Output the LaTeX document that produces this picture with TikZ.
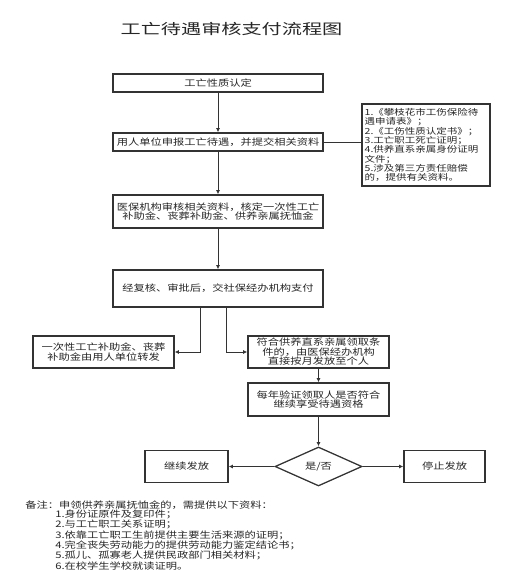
\documentclass[tikz,border=0pt]{standalone}
\usepackage{fontspec}
\setmainfont{Noto Sans CJK SC}[FakeStretch=1.25]
\newfontfamily\titlefont{Noto Sans CJK SC}[FakeStretch=1.4]
\usetikzlibrary{shapes.geometric,arrows.meta}
\definecolor{ink}{HTML}{262626}
\definecolor{edge}{HTML}{333333}
\tikzset{
  box/.style={draw=edge, line width=0.95pt, rectangle, inner xsep=2pt, inner ysep=1pt,
    align=center, text=ink, font=\fontsize{6.75pt}{7.1pt}\selectfont},
  widebox/.style={box, minimum width=157.5pt},
  sidebox/.style={box, minimum width=105.75pt},
  endbox/.style={box, minimum height=24pt},
  decision/.style={draw=edge, line width=0.95pt, diamond, inner sep=0pt, minimum width=65.25pt,
    minimum height=29.25pt, text=ink, font=\fontsize{6.75pt}{7.1pt}\selectfont},
  arr/.style={draw=edge, line width=0.7pt, -{Latex[length=3.2pt,width=3pt]}},
  conn/.style={draw=edge, line width=0.7pt},
  notetext/.style={inner sep=0pt, text=ink, align=left, font=\fontsize{6.75pt}{6.5pt}\selectfont}
}
\begin{document}
\begin{tikzpicture}[x=0.75pt, y=-0.75pt]
\useasboundingbox[fill=white] (0,0) rectangle (507,570);
\node[text=ink, font=\titlefont\fontsize{10.8pt}{12pt}\selectfont] (title) at (231.5,29) {工亡待遇审核支付流程图};
\node[widebox, minimum height=13.5pt] (b1) at (218,83) {工亡性质认定};
\node[widebox, minimum height=13.5pt] (b2) at (218,142) {用人单位申报工亡待遇，并提交相关资料};
\node[box, align=left, text width=92pt, minimum height=61.5pt, inner xsep=2pt,
  font=\fontsize{6.3pt}{7pt}\selectfont] (rb) at (426,145) {1.《攀枝花市工伤保险待\\遇申请表》；\\2.《工伤性质认定书》；\\3.工亡职工死亡证明；\\4.供养直系亲属身份证明\\文件；\\5.涉及第三方责任赔偿\\的，提供有关资料。};
\node[widebox, minimum height=24.75pt] (b3) at (218,211.5) {医保机构审核相关资料，核定一次性工亡\\补助金、丧葬补助金、供养亲属抚恤金};
\node[widebox, minimum height=27.75pt] (b4) at (218,288.5) {经复核、审批后，交社保经办机构支付};
\node[sidebox, minimum height=24pt] (b5) at (103.5,352) {一次性工亡补助金、丧葬\\补助金由用人单位转发};
\node[sidebox, minimum height=24pt] (b6) at (318.5,352) {符合供养直系亲属领取条\\件的，由医保经办机构\\直接按月发放至个人};
\node[sidebox, minimum height=24.75pt] (b7) at (318.5,399.5) {每年验证领取人是否符合\\继续享受待遇资格};
\node[decision] (d) at (318.5,466.5) {是/否};
\node[endbox, minimum width=62.25pt] (b8) at (186.5,466.5) {继续发放};
\node[endbox, minimum width=60.75pt] (b9) at (444.5,466.5) {停止发放};
\draw[arr] (b1) -- (b2);
\draw[conn] (b2.east) -- (b2.east -| rb.west);
\draw[arr] (b2) -- (b3);
\draw[arr] (b3) -- (b4);
\draw[arr] (b4.south) ++(-18,0) |- (b5.east);
\draw[arr] (b4.south) ++(8,0) |- (b6.west);
\draw[arr] (b6) -- (b7);
\draw[arr] (b7) -- (d);
\draw[arr] (d.west) -- (b8.east);
\draw[arr] (d.east) -- (b9.west);
\node[notetext, anchor=west] (n0) at (25,505) {备注：申领供养亲属抚恤金的，需提供以下资料：};
\node[notetext, anchor=north west] (n1) at (55,509.5) {1.身份证原件及复印件；\\2.与工亡职工关系证明；\\3.依靠工亡职工生前提供主要生活来源的证明；\\4.完全丧失劳动能力的提供劳动能力鉴定结论书；\\5.孤儿、孤寡老人提供民政部门相关材料；\\6.在校学生学校就读证明。};
\end{tikzpicture}
\end{document}
